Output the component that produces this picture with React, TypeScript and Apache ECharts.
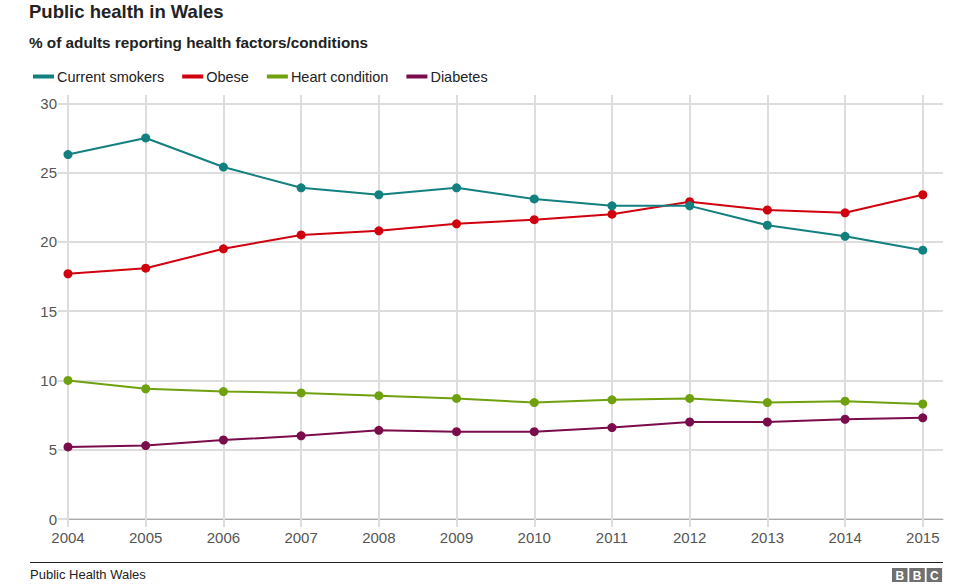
import React, { useEffect, useRef } from "react";
import * as echarts from "echarts";

const years = [2004, 2005, 2006, 2007, 2008, 2009, 2010, 2011, 2012, 2013, 2014, 2015];
const yTicks = [0, 5, 10, 15, 20, 25, 30];
const smokers = [26.3, 27.5, 25.4, 23.9, 23.4, 23.9, 23.1, 22.6, 22.6, 21.2, 20.4, 19.4];
const obese = [17.7, 18.1, 19.5, 20.5, 20.8, 21.3, 21.6, 22.0, 22.9, 22.3, 22.1, 23.4];
const heart = [10.0, 9.4, 9.2, 9.1, 8.9, 8.7, 8.4, 8.6, 8.7, 8.4, 8.5, 8.3];
const diabetes = [5.2, 5.3, 5.7, 6.0, 6.4, 6.3, 6.3, 6.6, 7.0, 7.0, 7.2, 7.3];

const seriesNames = ["Current smokers", "Obese", "Heart condition", "Diabetes"];
const seriesValues = [smokers, obese, heart, diabetes];
const colors = ["#12807f", "#d1000e", "#6ea10d", "#7a0c4c"];

const FONT = "'Liberation Sans', Arial, Helvetica, sans-serif";

export default function App() {
  const ref = useRef<HTMLDivElement>(null);
  useEffect(() => {
    document.body.style.margin = "0";
    const chart = echarts.init(ref.current!, null, { renderer: "svg" });
    chart.setOption({
      animation: false,
      backgroundColor: "#fff",
      textStyle: { fontFamily: FONT },
      legend: {
        left: 28,
        top: 64,
        icon: "rect",
        itemWidth: 21,
        itemHeight: 4,
        itemGap: 18,
        textStyle: { fontSize: 14.5, color: "#222", fontFamily: FONT, padding: [0, 0, 0, -2] },
        data: seriesNames,
      },
      grid: { left: 68, right: 33, top: 95, bottom: 68 },
      xAxis: {
        type: "value",
        min: 2004,
        max: 2015.26,
        interval: 1,
        axisLine: { show: true, lineStyle: { color: "#aaa", width: 1 } },
        axisTick: { show: true, length: 8, lineStyle: { color: "#ddd", width: 2 }, customValues: years },
        axisLabel: { customValues: years, color: "#555", fontSize: 15, margin: 11, formatter: (v: number) => String(v) },
        splitLine: { show: true, lineStyle: { color: "#ddd", width: 2 } },
      },
      yAxis: {
        type: "value",
        min: 0,
        max: 30.6,
        interval: 5,
        axisLine: { show: false },
        axisTick: { show: true, length: 10, lineStyle: { color: "#ddd", width: 2 }, customValues: yTicks },
        axisLabel: { customValues: yTicks, color: "#555", fontSize: 15, margin: 11 },
        splitLine: { show: true, lineStyle: { color: "#ddd", width: 2 } },
      },
      series: seriesNames.map((name, i) => ({
        name,
        type: "line",
        data: years.map((y, j) => [y, seriesValues[i][j]]),
        symbol: "circle",
        symbolSize: 9,
        showSymbol: true,
        lineStyle: { width: 2, color: colors[i] },
        itemStyle: { color: colors[i] },
        z: 10 - i,
      })),
      graphic: [
        {
          type: "text",
          x: 29,
          y: 11.5,
          style: { text: "Public health in Wales", font: `bold 18.5px ${FONT}`, fill: "#222", verticalAlign: "middle" },
        },
        {
          type: "text",
          x: 29,
          y: 42,
          style: { text: "% of adults reporting health factors/conditions", font: `bold 15.3px ${FONT}`, fill: "#222", verticalAlign: "middle" },
        },
        {
          type: "line",
          shape: { x1: 30, y1: 562.5, x2: 943, y2: 562.5 },
          style: { stroke: "#222", lineWidth: 1 },
        },
        {
          type: "text",
          x: 30,
          y: 574,
          style: { text: "Public Health Wales", font: `13px ${FONT}`, fill: "#222", verticalAlign: "middle" },
        },
        ...["B", "B", "C"].flatMap((ch, k) => [
          {
            type: "rect",
            shape: { x: 892 + k * 17.3, y: 568, width: 15.5, height: 14 },
            style: { fill: "#707070" },
          },
          {
            type: "text",
            x: 892 + k * 17.3 + 7.75,
            y: 575.5,
            style: { text: ch, font: `bold 12px ${FONT}`, fill: "#fff", align: "center", verticalAlign: "middle" },
          },
        ]),
      ],
    });
    return () => chart.dispose();
  }, []);
  return <div ref={ref} style={{ width: 976, height: 587 }} />;
}
